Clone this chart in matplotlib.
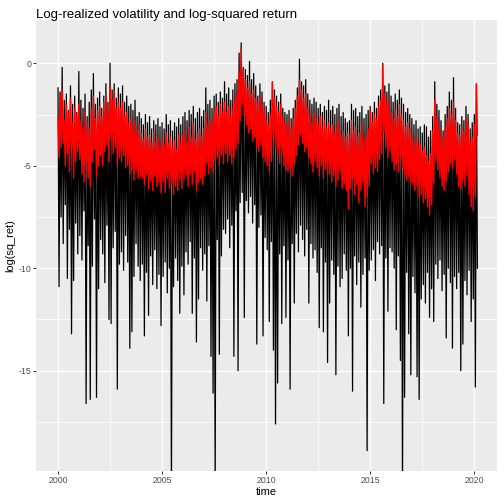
import numpy as np
import matplotlib
matplotlib.use("Agg")
import matplotlib.pyplot as plt

NEG_INF = float("-inf")  # log(0) days, drawn at the panel edge like ggplot does

# ── Data: one row per year, ten steps of 0.1 yr each, starting 2000.0 ──
# log squared return: high point and low point of each step
sq_hi = [
    -1.2, -1.4, -0.2, -1.8, -1.5, -2.3, -1.1, -2.0, -1.6, -2.4,   # 2000
    -0.4, -1.8, -2.2, -1.5, -2.6, -1.9, -1.3, -0.5, -2.0, -1.7,   # 2001
    -1.4, -2.2, -1.6, -1.0, -1.9, 0.0, -1.3, -1.0, -1.7, -1.2,    # 2002
    -1.5, -1.1, -1.9, -1.6, -2.1, -2.0, -2.3, -1.8, -2.6, -2.4,   # 2003
    -2.7, -3.0, -2.5, -2.9, -2.6, -3.2, -2.8, -3.0, -2.7, -3.1,   # 2004
    -2.9, -3.2, -2.5, -3.0, -2.8, -3.3, -2.9, -3.1, -2.7, -3.0,   # 2005
    -2.6, -2.4, -2.8, -2.3, -2.5, -2.1, -2.7, -2.4, -2.2, -2.6,   # 2006
    -2.3, -1.2, -2.0, -1.8, -2.2, -1.6, -1.5, -1.9, -1.4, -1.7,   # 2007
    -0.9, -1.5, -1.2, -1.8, -1.3, -1.0, -0.8, 0.5, 1.0, -0.2,     # 2008
    -0.3, -0.6, 0.1, -0.8, -0.5, -1.1, -1.6, -1.0, -1.4, -1.9,    # 2009
    -2.1, -2.4, -1.8, -0.9, -1.3, -1.6, -1.9, -1.5, -2.2, -2.4,   # 2010
    -2.5, -2.3, -2.7, -2.2, -1.8, -1.2, 0.2, -0.9, -1.1, -0.8,    # 2011
    -1.5, -1.8, -2.0, -1.7, -1.9, -2.2, -2.0, -2.4, -2.1, -2.3,   # 2012
    -1.8, -2.3, -2.1, -2.5, -2.2, -2.0, -2.6, -2.4, -2.7, -2.9,   # 2013
    -2.8, -2.0, -2.3, -2.2, -2.6, -2.4, -2.1, -2.7, -2.5, -2.3,   # 2014
    -2.1, -2.4, -1.9, -2.2, -1.6, -1.3, 0.0, -1.1, -1.4, -1.0,    # 2015
    -1.6, -1.9, -1.5, -1.8, -1.3, -1.7, -2.0, -2.4, -2.2, -2.5,   # 2016
    -2.7, -3.0, -2.8, -3.2, -3.1, -3.4, -3.0, -3.1, -3.6, -3.3,   # 2017
    -2.6, -0.9, -2.0, -2.3, -2.8, -3.3, -2.5, -2.1, -1.4, -1.8,   # 2018
    -0.7, -2.2, -2.9, -3.0, -2.6, -2.8, -2.1, -2.5, -3.2, -2.9,   # 2019
    -2.5, -1.0,                                                   # 2020
]
sq_lo = [
    -10.9, -7.5, -8.8, -6.9, -10.5, -8.1, -13.2, -10.6, -7.8, -9.3,
    -8.4, -9.6, -7.2, -16.6, -8.9, -16.4, -9.9, -7.6, -16.3, -11.0,
    -8.6, -9.3, -10.7, -7.9, -12.5, -12.7, -9.0, -8.2, -15.9, -9.8,
    -9.2, -10.1, -8.4, -9.7, -13.9, -13.1, -10.4, -8.8, -9.9, -10.6,
    -9.8, -13.3, -10.2, -12.3, -9.4, -10.8, -9.1, -11.0, -10.3, -12.8,
    -10.4, -9.7, -11.2, -10.0, NEG_INF, -10.9, -9.5, -10.6, -12.2, -9.9,
    -11.3, -9.2, -9.8, -8.7, -12.2, -9.5, -13.6, -11.5, -9.0, -10.1,
    -9.3, -11.6, -8.9, -14.3, -16.1, NEG_INF, -8.6, -14.2, -9.4, -8.1,
    -8.3, -7.6, -9.0, -7.9, -14.3, -7.2, -15.0, -6.8, -6.3, -12.4,
    -6.7, -7.3, -6.5, -7.8, -6.9, -13.7, -8.0, -7.4, -13.3, -8.5,
    -9.1, -12.6, -8.7, -14.0, -17.6, -15.6, -9.3, -12.7, -8.9, -12.4,
    -9.6, -15.9, -8.8, -11.7, -8.3, -9.2, -7.9, -8.6, -9.4, -8.1,
    -11.7, -8.8, -9.5, -9.1, -10.2, -12.9, -9.0, -13.1, -9.7, -14.6,
    -11.7, -9.6, -10.3, -15.2, -9.9, -10.9, -10.5, -9.3, -10.1, -13.3,
    -10.0, -16.0, -9.4, -10.8, -9.7, -11.9, -10.3, -9.5, -18.9, -10.1,
    -9.6, -9.1, -10.6, -8.7, -9.3, -8.9, -16.6, -9.5, -12.1, -9.0,
    -9.2, -10.0, -13.0, -9.4, -14.5, NEG_INF, -16.3, -10.2, -13.2, -15.2,
    -10.4, -11.2, -15.3, -16.4, -11.5, -10.8, -11.7, -10.2, -12.4, -11.0,
    -12.6, -9.8, -10.5, -9.6, -11.1, -10.3, -13.4, -10.0, -10.7, -13.9,
    -10.4, -11.0, -10.2, -15.0, -13.7, -10.6, -11.3, -10.1, -12.6, -11.5,
    -15.8, -10.0,
]
# log realized volatility: high point and low point of each step
rv_hi = [
    -2.6, -1.5, -1.3, -2.8, -2.0, -2.4, -1.7, -2.9, -2.2, -2.5,
    -2.0, -2.8, -3.1, -2.4, -2.9, -3.2, -2.2, -1.6, -2.7, -2.3,
    -2.1, -2.6, -1.9, -1.5, -2.3, -1.1, -1.8, -1.4, -2.2, -1.9,
    -2.2, -1.9, -2.6, -2.4, -2.9, -2.7, -3.1, -2.8, -3.3, -3.0,
    -3.4, -3.7, -3.2, -3.6, -3.5, -3.9, -3.3, -3.8, -3.6, -4.0,
    -3.7, -4.0, -3.4, -3.9, -3.6, -4.1, -3.8, -4.2, -3.5, -3.9,
    -3.5, -3.3, -3.8, -3.1, -3.6, -2.9, -3.7, -3.4, -3.2, -3.6,
    -3.2, -2.4, -3.0, -2.7, -2.9, -2.3, -2.1, -2.6, -2.0, -2.4,
    -1.9, -2.4, -2.1, -2.6, -2.2, -1.8, -1.5, -0.4, 0.7, -0.3,
    -0.8, -1.2, -0.9, -1.5, -1.3, -1.7, -1.9, -1.6, -2.0, -2.3,
    -2.8, -3.0, -2.5, -0.9, -1.7, -2.1, -2.4, -2.0, -2.6, -2.9,
    -3.0, -2.8, -3.2, -2.7, -2.2, -1.6, -0.8, -1.3, -1.7, -1.5,
    -2.2, -2.5, -2.9, -2.4, -2.7, -3.0, -2.6, -3.1, -2.8, -3.2,
    -2.9, -3.2, -3.0, -3.4, -3.1, -2.8, -3.5, -3.3, -3.6, -3.4,
    -3.5, -2.8, -3.3, -3.1, -3.6, -3.4, -3.0, -3.7, -3.5, -3.2,
    -2.3, -2.9, -2.5, -2.7, -2.1, -1.8, -0.1, -1.5, -1.9, -1.7,
    -2.4, -2.7, -2.3, -2.6, -2.0, -2.5, -2.8, -3.1, -2.9, -3.2,
    -3.5, -3.8, -3.6, -4.0, -3.9, -4.3, -4.1, -4.5, -4.8, -4.4,
    -3.3, -1.8, -2.6, -3.0, -3.4, -3.6, -3.1, -2.7, -2.2, -2.5,
    -1.9, -2.8, -3.4, -3.5, -3.1, -3.3, -2.7, -3.0, -3.8, -3.6,
    -3.0, -1.0,
]
rv_lo = [
    -4.6, -4.1, -3.9, -5.0, -4.4, -5.3, -4.0, -5.6, -4.8, -4.3,
    -4.7, -5.4, -5.8, -4.9, -5.6, -6.0, -4.8, -4.2, -5.5, -5.0,
    -4.5, -5.0, -4.3, -4.0, -4.8, -3.7, -4.4, -4.1, -5.0, -4.6,
    -4.8, -4.5, -5.1, -5.0, -5.4, -5.2, -5.7, -5.3, -5.6, -5.5,
    -5.6, -5.9, -5.4, -6.1, -5.7, -6.2, -5.5, -6.0, -5.8, -6.3,
    -5.8, -6.3, -5.6, -6.1, -5.9, -6.4, -6.0, -6.2, -5.7, -6.1,
    -5.7, -5.5, -6.0, -5.4, -5.9, -5.3, -6.2, -5.8, -5.6, -5.9,
    -5.5, -4.9, -5.4, -5.1, -5.3, -4.8, -4.6, -5.0, -4.5, -4.9,
    -4.4, -4.8, -4.5, -4.9, -4.6, -4.2, -3.9, -2.8, -2.0, -2.5,
    -3.0, -3.4, -3.2, -3.8, -3.6, -4.1, -4.3, -4.0, -4.6, -4.8,
    -5.0, -5.3, -4.8, -3.6, -4.1, -4.5, -4.9, -4.4, -5.0, -5.2,
    -5.3, -5.1, -5.5, -4.9, -4.5, -4.0, -3.5, -3.9, -4.3, -4.1,
    -4.6, -4.9, -5.3, -4.8, -5.1, -5.5, -5.0, -5.6, -5.2, -5.4,
    -5.4, -5.8, -5.5, -6.0, -5.7, -5.3, -6.1, -5.9, -6.2, -7.1,
    -6.1, -5.6, -6.4, -5.9, -6.8, -6.2, -5.8, -7.0, -6.5, -6.0,
    -4.9, -5.4, -5.1, -5.3, -4.7, -4.4, -3.4, -4.1, -4.6, -4.3,
    -4.8, -5.2, -4.9, -5.3, -4.6, -5.1, -5.4, -5.7, -5.5, -5.8,
    -5.9, -6.2, -6.0, -6.5, -6.4, -6.8, -6.6, -7.0, -7.4, -6.9,
    -5.9, -4.8, -5.2, -5.6, -6.0, -6.2, -5.7, -5.3, -4.9, -5.1,
    -4.7, -5.4, -6.0, -6.1, -5.7, -6.0, -5.5, -6.4, -7.0, -7.2,
    -6.5, -3.5,
]

x_ticks = [2000, 2005, 2010, 2015, 2020]
x_minor = [2002.5, 2007.5, 2012.5, 2017.5]
y_ticks = [0, -5, -10, -15]
y_minor = [-2.5, -7.5, -12.5, -17.5]

START, STEP = 2000.0, 0.1
X_LIM = (1998.943, 2021.09)
Y_LIM = (-19.894, 2.113)

# ── Build the zigzag paths (high then low inside every step) ─────
t = START + STEP * np.arange(len(sq_hi))
xs = np.column_stack([t, t + STEP / 2]).ravel()
sq = np.column_stack([sq_hi, sq_lo]).ravel()
rv = np.column_stack([rv_hi, rv_lo]).ravel()
sq = np.clip(sq, Y_LIM[0] - 1, None)   # -Inf squished to the panel edge

# ── Figure in ggplot grey theme ──────────────────────────────────
plt.rcParams["font.family"] = ["Liberation Sans", "DejaVu Sans"]
fig = plt.figure(figsize=(7, 7), dpi=72)
ax = fig.add_axes([36 / 504, 1 - 471 / 504, 461 / 504, 451 / 504])
ax.set_facecolor("#EBEBEB")
for s in ax.spines.values():
    s.set_visible(False)

ax.set_xlim(*X_LIM)
ax.set_ylim(*Y_LIM)
ax.set_xticks(x_ticks)
ax.set_xticks(x_minor, minor=True)
ax.set_yticks(y_ticks)
ax.set_yticks(y_minor, minor=True)
ax.set_xticklabels([str(v) for v in x_ticks])
ax.set_yticklabels([str(v) for v in y_ticks])
ax.grid(True, which="major", color="white", linewidth=1.4)
ax.grid(True, which="minor", color="white", linewidth=0.7)
ax.set_axisbelow(True)
ax.tick_params(which="major", length=2.75, width=1.0, color="#333333",
               labelcolor="#4D4D4D", labelsize=8.8, pad=2.2)
ax.tick_params(which="minor", length=0)

ax.plot(xs, sq, color="black", linewidth=1.25)
ax.plot(xs, rv, color="red", linewidth=1.4)

ax.set_xlabel("time", fontsize=11, labelpad=2)
ax.set_ylabel("log(sq_ret)", fontsize=11, labelpad=3)
fig.text(36 / 504, 1 - 15 / 504, "Log-realized volatility and log-squared return",
         fontsize=13.2, ha="left", va="center")

plt.savefig("out.png", dpi=72)
plt.close()
